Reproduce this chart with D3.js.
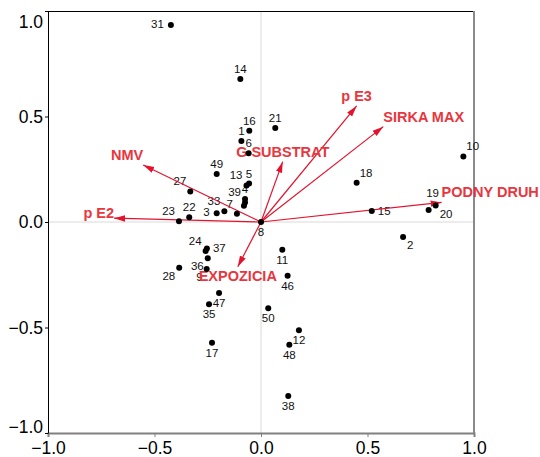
<!DOCTYPE html>
<html>
<head>
<meta charset="utf-8">
<script src="https://cdn.jsdelivr.net/npm/d3@7"></script>
<style>
  body { margin: 0; background: #fff; }
  svg { display: block; }
</style>
</head>
<body>
<div id="chart"></div>
<script>
// sample scores (axis 1 / axis 2)
const sampleIds = ["1", "2", "3", "4", "5", "6", "7", "8", "9", "10",
    "11", "12", "13", "14", "15", "16", "17", "18", "19", "20",
    "21", "22", "23", "24", "27", "28", "31", "33", "35", "36",
    "37", "38", "39", "", "46", "47", "48", "49", "50"];
const axis1 = [-0.092, 0.667, -0.208, -0.075, -0.056, -0.058, -0.113, 0.0, -0.255, 0.95,
    0.1, 0.178, -0.068, -0.097, 0.52, -0.055, -0.23, 0.449, 0.787, 0.82,
    0.067, -0.337, -0.385, -0.26, -0.332, -0.384, -0.423, -0.172, -0.244, -0.25,
    -0.254, 0.128, -0.075, -0.08, 0.125, -0.197, 0.133, -0.208, 0.034];
const axis2 = [0.384, -0.071, 0.041, 0.109, 0.182, 0.326, 0.039, 0.0, -0.223, 0.311,
    -0.131, -0.513, 0.173, 0.678, 0.052, 0.433, -0.572, 0.186, 0.057, 0.078,
    0.445, 0.022, 0.003, -0.137, 0.145, -0.217, 0.934, 0.051, -0.39, -0.172,
    -0.125, -0.825, 0.093, 0.077, -0.255, -0.336, -0.582, 0.227, -0.409];
const labelSide = ["n", "se", "w", "n", "n", "n", "nw", "s", "sw", "ne",
    "s", "s", "nw", "n", "e", "n", "s", "ne", "nn", "se",
    "n", "n", "nw", "nw", "nw", "sw", "w", "nw", "s", "sw",
    "e", "s", "nw", "n", "s", "s", "s", "n", "s"];

// environmental variables (arrow tips)
const envVars = ["NMV", "p E2", "G SUBSTRAT", "p E3", "SIRKA MAX", "PODNY DRUH", "EXPOZICIA"];
const envX = [-0.553, -0.69, 0.102, 0.449, 0.574, 0.848, -0.109];
const envY = [0.27, 0.018, 0.286, 0.55, 0.452, 0.093, -0.212];

const tickValues = [-1, -0.5, 0, 0.5, 1];

const W = 540, H = 457;
const margin = { top: 11, right: 66, bottom: 24, left: 48 };
const width = W - margin.left - margin.right;
const height = H - margin.top - margin.bottom;
const red = "#e3132d";
const redText = "#e8363e";
const font = "'Liberation Sans', Arial, sans-serif";

const svg = d3.select("#chart").append("svg")
    .attr("width", W)
    .attr("height", H);

svg.append("defs").append("marker")
    .attr("id", "head")
    .attr("markerUnits", "userSpaceOnUse")
    .attr("viewBox", "0 -4 11 8")
    .attr("refX", 11).attr("refY", 0)
    .attr("markerWidth", 11).attr("markerHeight", 8)
    .attr("orient", "auto")
    .append("path")
    .attr("d", "M0,-3.2L11,0L0,3.2Z")
    .attr("fill", red);

const g = svg.append("g").attr("transform", `translate(${margin.left},${margin.top})`);

const x = d3.scaleLinear().domain([-1, 1]).range([0, width]);
const y = d3.scaleLinear().domain([-1, 1]).range([height, 0]);

// zero lines
g.append("line").attr("x1", x(0)).attr("x2", x(0)).attr("y1", 0).attr("y2", height)
    .attr("stroke", "#dadada");
g.append("line").attr("x1", 0).attr("x2", width).attr("y1", y(0)).attr("y2", y(0))
    .attr("stroke", "#dadada");

// frame: top black, right gray
g.append("line").attr("x1", 0).attr("x2", width).attr("y1", 0.5).attr("y2", 0.5)
    .attr("stroke", "#000");
g.append("line").attr("x1", width).attr("x2", width).attr("y1", 0).attr("y2", height)
    .attr("stroke", "#8a8a8a").attr("stroke-width", 2);

const xAxis = g.append("g")
    .attr("transform", `translate(0,${height})`)
    .call(d3.axisBottom(x).tickValues(tickValues).tickFormat(d3.format(".1f")).tickSize(4).tickPadding(5));
xAxis.select(".domain").attr("stroke", "#808080").attr("stroke-width", 2);
xAxis.selectAll(".tick line").attr("stroke", "#808080");
xAxis.selectAll("text").attr("font-size", 17.5).attr("font-family", font).attr("fill", "#000");

const yAxis = g.append("g")
    .call(d3.axisLeft(y).tickValues(tickValues).tickFormat(d3.format(".1f")).tickSize(3).tickSizeOuter(0).tickPadding(2));
yAxis.selectAll("text").attr("font-size", 17.5).attr("font-family", font).attr("fill", "#000");
// end labels are kept inside the frame
yAxis.selectAll(".tick").filter(d => d === 1).select("text").attr("dy", "0.95em");
yAxis.selectAll(".tick").filter(d => d === -1).select("text").attr("dy", "-0.05em");

const samples = sampleIds.map((id, i) => ({ id, sx: axis1[i], sy: axis2[i], side: labelSide[i] }));
const env = envVars.map((name, i) => ({ name, ex: envX[i], ey: envY[i] }));

const sideOffset = {
    n: ["middle", 0, -6],
    nn: ["middle", 4, -13],
    s: ["middle", 0, 14],
    nw: ["end", -4, -6],
    ne: ["start", 3, -6],
    w: ["end", -7, 3],
    e: ["start", 6, 4],
    se: ["start", 4, 12],
    sw: ["end", -4, 12]
};

// sample labels
g.append("g").selectAll("text")
    .data(samples)
    .join("text")
    .attr("x", d => x(d.sx) + sideOffset[d.side][1])
    .attr("y", d => y(d.sy) + sideOffset[d.side][2])
    .attr("text-anchor", d => sideOffset[d.side][0])
    .attr("font-family", font)
    .attr("font-size", 11.5)
    .attr("fill", "#111")
    .text(d => d.id);

// arrows
g.append("g").selectAll("line")
    .data(env)
    .join("line")
    .attr("x1", x(0)).attr("y1", y(0))
    .attr("x2", d => x(d.ex)).attr("y2", d => y(d.ey))
    .attr("stroke", red)
    .attr("stroke-width", 1.2)
    .attr("marker-end", "url(#head)");

g.append("g").selectAll("text")
    .data(env)
    .join("text")
    .attr("x", d => x(d.ex))
    .attr("y", d => y(d.ey) + (d.ey > 0.05 ? -5 : d.ey < -0.05 ? 14 : 0))
    .attr("text-anchor", d => Math.abs(d.ex) > Math.abs(d.ey) ? (d.ex > 0 ? "start" : "end") : "middle")
    .attr("font-family", font)
    .attr("font-weight", "bold")
    .attr("font-size", 14.5)
    .attr("fill", redText)
    .text(d => d.name);

// sample points
g.append("g").selectAll("circle")
    .data(samples)
    .join("circle")
    .attr("cx", d => x(d.sx))
    .attr("cy", d => y(d.sy))
    .attr("r", 3)
    .attr("fill", "#000");
</script>
</body>
</html>
